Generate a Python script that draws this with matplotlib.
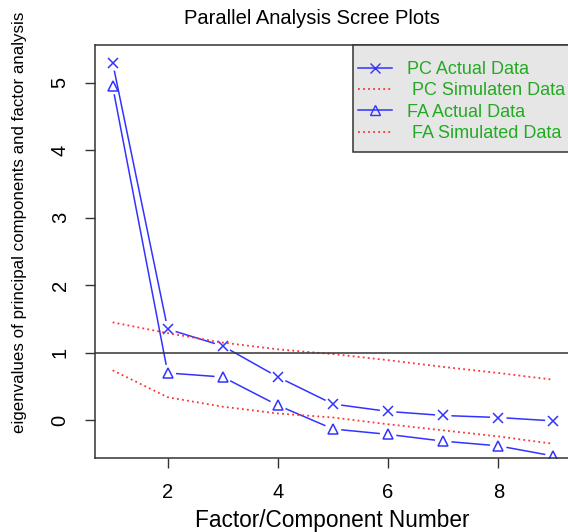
import numpy as np
import matplotlib
matplotlib.use("Agg")
import matplotlib.pyplot as plt
from matplotlib.patches import Rectangle

plt.rcParams['font.family'] = ['Liberation Sans', 'DejaVu Sans']

# values
factors = np.arange(1, 10)
pc_actual = [5.30, 1.35, 1.10, 0.64, 0.24, 0.13, 0.07, 0.04, -0.01]
pc_simulated = [1.45, 1.29, 1.15, 1.05, 0.98, 0.89, 0.79, 0.70, 0.60]
fa_actual = [4.95, 0.70, 0.64, 0.22, -0.13, -0.21, -0.31, -0.38, -0.53]
fa_simulated = [0.74, 0.34, 0.20, 0.10, 0.04, -0.06, -0.15, -0.24, -0.35]
legend_labels = ["PC Actual Data", " PC Simulaten Data", "FA Actual Data", " FA Simulated Data"]

blue = "#3333ff"
red = "#ff3333"
green = "#22aa22"
dots = (0, (1, 1.8))

fig = plt.figure(figsize=(5.68, 5.32), dpi=100)
ax = fig.add_axes([95/568, 1 - 458/532, 476/568, 413/532])
ax.set_xlim(0.68, 9.32)
ax.set_ylim(-0.56, 5.56)


def gapped_line(ax, x, y, gap=9, **kw):
    # R type="b": segments stop short of each point
    fig.canvas.draw()
    pts = ax.transData.transform(np.column_stack([x, y]))
    inv = ax.transData.inverted()
    for p0, p1 in zip(pts[:-1], pts[1:]):
        d = p1 - p0
        L = np.hypot(*d)
        if L <= 2 * gap:
            continue
        u = d / L
        a = inv.transform(p0 + u * gap)
        b = inv.transform(p1 - u * gap)
        ax.plot([a[0], b[0]], [a[1], b[1]], **kw)


gapped_line(ax, factors, pc_actual, color=blue, lw=1.1)
ax.plot(factors, pc_actual, ls='none', marker='x', ms=7, mew=1.1, color=blue)
ax.plot(factors, pc_simulated, ls=dots, lw=1.3, color=red)
gapped_line(ax, factors, fa_actual, color=blue, lw=1.1)
ax.plot(factors, fa_actual, ls='none', marker='^', ms=7.5, mew=1.1, mfc='none', color=blue)
ax.plot(factors, fa_simulated, ls=dots, lw=1.3, color=red)
ax.axhline(1, color='#333333', lw=1.1)

ax.set_xticks([2, 4, 6, 8])
ax.set_yticks([0, 1, 2, 3, 4, 5])
ax.tick_params(direction='out', length=7.2, width=1, color='#333333', labelsize=14.5, pad=11)
for lab in ax.get_yticklabels():
    lab.set_rotation(90)
    lab.set_va('center')
for s in ax.spines.values():
    s.set_color('#333333')
    s.set_linewidth(1.1)

fig.text(332/568, 1 - 521/532, "Factor/Component Number", ha='center', va='center', fontsize=16.3)
fig.text(20/568, 1 - 222/532, "eigenvalues of principal components and factor analysis",
         rotation=90, ha='center', va='center', fontsize=12.2)
fig.text(312/568, 1 - 18/532, "Parallel Analysis Scree Plots", ha='center', va='center', fontsize=14.5)

# legend box drawn by hand, like R's legend()
box = Rectangle((353/568, 1 - 152/532), 230/568, 107/532, transform=fig.transFigure,
                facecolor='#e6e6e6', edgecolor='#333333', lw=1.1, zorder=4)
fig.add_artist(box)
handles = [
    plt.Line2D([], [], color=blue, lw=1.1, marker='x', ms=7),
    plt.Line2D([], [], color=red, lw=1.3, ls=dots),
    plt.Line2D([], [], color=blue, lw=1.1, marker='^', ms=7.5, mfc='none'),
    plt.Line2D([], [], color=red, lw=1.3, ls=dots),
]
leg = fig.legend(handles, legend_labels, loc='upper left', bbox_to_anchor=(358/568, 1 - 61/532),
                 bbox_transform=fig.transFigure, frameon=False, fontsize=13, labelcolor=green,
                 handlelength=1.9, borderpad=0, labelspacing=0.24, handletextpad=0.8,
                 borderaxespad=0)
leg.set_zorder(5)

fig.savefig("out.png", dpi=100)
